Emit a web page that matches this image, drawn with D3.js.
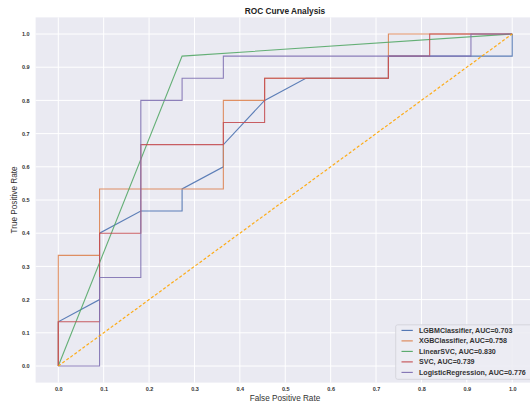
<!DOCTYPE html>
<html>
<head>
<meta charset="utf-8">
<script src="https://cdn.jsdelivr.net/npm/d3@7"></script>
<style>
html,body{margin:0;padding:0;background:#fff;overflow:hidden;}
svg{display:block;font-family:"Liberation Sans",Arial,Helvetica,sans-serif;}
</style>
</head>
<body>
<svg id="chart" width="530" height="407"></svg>
<script>
// ---- data ----
const seriesNames = ["LGBMClassifier", "XGBClassifier", "LinearSVC", "SVC", "LogisticRegression"];
const aucValues = [0.703, 0.758, 0.830, 0.739, 0.776];
const seriesColors = ["#4c72b0", "#dd8452", "#55a868", "#c44e52", "#8172b3"];
const k = 1/11, t = 1/15;
const lgbmFpr = [0, 0, 1*k, 1*k, 2*k, 3*k, 3*k, 4*k, 4*k, 5*k, 6*k, 8*k, 8*k, 1, 1];
const lgbmTpr = [0, 2*t, 3*t, 6*t, 7*t, 7*t, 8*t, 9*t, 10*t, 12*t, 13*t, 13*t, 14*t, 14*t, 1];
const xgbFpr = [0, 0, 1*k, 1*k, 4*k, 4*k, 5*k, 5*k, 8*k, 8*k, 1];
const xgbTpr = [0, 5*t, 5*t, 8*t, 8*t, 12*t, 12*t, 13*t, 13*t, 1, 1];
const linsvcFpr = [0, 3*k, 1];
const linsvcTpr = [0, 14*t, 1];
const svcFpr = [0, 0, 1*k, 1*k, 2*k, 2*k, 4*k, 4*k, 5*k, 5*k, 8*k, 8*k, 9*k, 9*k, 1];
const svcTpr = [0, 2*t, 2*t, 6*t, 6*t, 10*t, 10*t, 11*t, 11*t, 13*t, 13*t, 14*t, 14*t, 1, 1];
const lrFpr = [0, 1*k, 1*k, 2*k, 2*k, 3*k, 3*k, 4*k, 4*k, 10*k, 10*k, 1];
const lrTpr = [0, 0, 4*t, 4*t, 12*t, 12*t, 13*t, 13*t, 14*t, 14*t, 1, 1];
const fprList = [lgbmFpr, xgbFpr, linsvcFpr, svcFpr, lrFpr];
const tprList = [lgbmTpr, xgbTpr, linsvcTpr, svcTpr, lrTpr];
const tickValues = [0, 0.1, 0.2, 0.3, 0.4, 0.5, 0.6, 0.7, 0.8, 0.9, 1.0];
const titleText = "ROC Curve Analysis";
const xLabel = "False Positive Rate";
const yLabel = "True Positive Rate";

// ---- layout ----
const svg = d3.select("#chart");
const x = d3.scaleLinear().domain([-0.05, 1.05]).range([35.6, 534.9]);
const y = d3.scaleLinear().domain([-0.05, 1.05]).range([382.6, 17.4]);

svg.append("rect")
  .attr("x", x(-0.05)).attr("y", y(1.05))
  .attr("width", x(1.05) - x(-0.05)).attr("height", y(-0.05) - y(1.05))
  .attr("fill", "#eaeaf2");

// grid
svg.append("g").selectAll("line").data(tickValues).join("line")
  .attr("x1", d => x(d)).attr("x2", d => x(d))
  .attr("y1", y(1.05)).attr("y2", y(-0.05))
  .attr("stroke", "#fff").attr("stroke-width", 1);
svg.append("g").selectAll("line").data(tickValues).join("line")
  .attr("y1", d => y(d)).attr("y2", d => y(d))
  .attr("x1", x(-0.05)).attr("x2", x(1.05))
  .attr("stroke", "#fff").attr("stroke-width", 1);

// axes (labels only)
const xAxis = svg.append("g").attr("transform", `translate(0,${y(-0.05)})`)
  .call(d3.axisBottom(x).tickValues(tickValues).tickFormat(d3.format(".1f")).tickSize(0).tickPadding(5));
const yAxis = svg.append("g").attr("transform", `translate(${x(-0.05)},0)`)
  .call(d3.axisLeft(y).tickValues(tickValues).tickFormat(d3.format(".1f")).tickSize(0).tickPadding(6));
[xAxis, yAxis].forEach(a => {
  a.select(".domain").remove();
  a.selectAll("text").attr("font-size", 5.5).attr("font-weight", "bold").attr("fill", "#333")
    .attr("font-family", "'Liberation Sans',Arial,sans-serif");
});

// curves
const line = d3.line().x(d => x(d[0])).y(d => y(d[1]));
const curveG = svg.append("g");
seriesNames.forEach((name, i) => {
  const pts = fprList[i].map((f, j) => [f, tprList[i][j]]);
  curveG.append("path").datum(pts)
    .attr("d", line).attr("fill", "none")
    .attr("stroke", seriesColors[i]).attr("stroke-width", 1.1)
    .attr("stroke-opacity", 0.9);
});

// chance line
svg.append("path").datum([[0, 0], [1, 1]])
  .attr("d", line).attr("fill", "none")
  .attr("stroke", "#ffa500").attr("stroke-width", 1.2)
  .attr("stroke-dasharray", "3,2").attr("stroke-opacity", 0.9);

// title & labels
svg.append("text").attr("x", 285).attr("y", 14).attr("text-anchor", "middle")
  .attr("font-size", 8.3).attr("font-weight", "bold").attr("fill", "#222").text(titleText);
svg.append("text").attr("x", 285).attr("y", 401).attr("text-anchor", "middle")
  .attr("font-size", 8.2).attr("fill", "#333").text(xLabel);
svg.append("text").attr("transform", `translate(16.5,200) rotate(-90)`).attr("text-anchor", "middle")
  .attr("font-size", 8.2).attr("fill", "#333").text(yLabel);

// legend
const lg = svg.append("g");
lg.append("rect").attr("x", 395.7).attr("y", 324.8).attr("width", 150).attr("height", 54.5)
  .attr("rx", 2).attr("fill", "#ececf3").attr("fill-opacity", 0.9)
  .attr("stroke", "#d0d0d8").attr("stroke-width", 0.8);
seriesNames.forEach((name, i) => {
  const yy = 330.4 + i * 10.5;
  lg.append("line").attr("x1", 401.5).attr("x2", 412.8).attr("y1", yy).attr("y2", yy)
    .attr("stroke", seriesColors[i]).attr("stroke-width", 1.1);
  lg.append("text").attr("x", 419).attr("y", yy + 2.4)
    .attr("font-size", 7.1).attr("font-weight", "bold").attr("fill", "#333")
    .text(`${name}, AUC=${aucValues[i].toFixed(3)}`);
});
</script>
</body>
</html>
